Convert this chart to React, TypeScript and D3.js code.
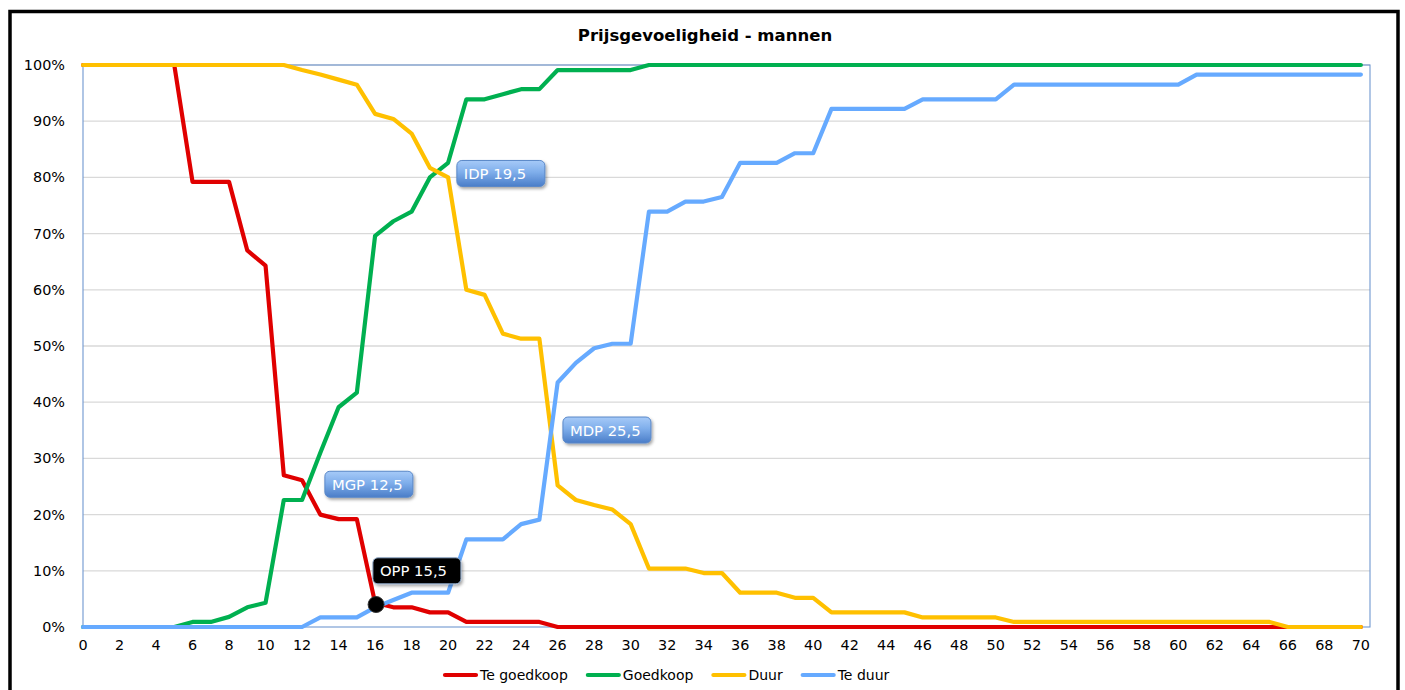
import React, { useEffect, useRef } from "react";
import * as d3 from "d3";

const title = "Prijsgevoeligheid - mannen";
const prices: number[] = d3.range(0, 71);
const xTicks: number[] = d3.range(0, 71, 2);
const yTicks: number[] = [0, 10, 20, 30, 40, 50, 60, 70, 80, 90, 100];

const teGoedkoop: number[] = [
  100, 100, 100, 100, 100, 100, 79.2, 79.2, 79.2, 67, 64.3, 27, 26.1, 20, 19.2, 19.2, 4.3, 3.5, 3.5, 2.6,
  2.6, 0.9, 0.9, 0.9, 0.9, 0.9, 0, 0, 0, 0, 0, 0, 0, 0, 0, 0, 0, 0, 0, 0,
  0, 0, 0, 0, 0, 0, 0, 0, 0, 0, 0, 0, 0, 0, 0, 0, 0, 0, 0, 0,
  0, 0, 0, 0, 0, 0, 0, 0, 0, 0, 0,
];
const goedkoop: number[] = [
  0, 0, 0, 0, 0, 0, 0.9, 0.9, 1.8, 3.5, 4.3, 22.6, 22.6, 31, 39.1, 41.7, 69.6, 72.2, 73.9, 80,
  82.6, 93.9, 93.9, 94.8, 95.7, 95.7, 99.1, 99.1, 99.1, 99.1, 99.1, 100, 100, 100, 100, 100, 100, 100, 100, 100,
  100, 100, 100, 100, 100, 100, 100, 100, 100, 100, 100, 100, 100, 100, 100, 100, 100, 100, 100, 100,
  100, 100, 100, 100, 100, 100, 100, 100, 100, 100, 100,
];
const duur: number[] = [
  100, 100, 100, 100, 100, 100, 100, 100, 100, 100, 100, 100, 99.1, 98.3, 97.4, 96.5, 91.3, 90.4, 87.8, 81.7,
  80, 60, 59.1, 52.2, 51.3, 51.3, 25.2, 22.6, 21.7, 20.9, 18.3, 10.4, 10.4, 10.4, 9.6, 9.6, 6.1, 6.1, 6.1, 5.2,
  5.2, 2.6, 2.6, 2.6, 2.6, 2.6, 1.7, 1.7, 1.7, 1.7, 1.7, 0.9, 0.9, 0.9, 0.9, 0.9, 0.9, 0.9, 0.9, 0.9,
  0.9, 0.9, 0.9, 0.9, 0.9, 0.9, 0, 0, 0, 0, 0,
];
const teDuur: number[] = [
  0, 0, 0, 0, 0, 0, 0, 0, 0, 0, 0, 0, 0, 1.7, 1.7, 1.7, 3.5, 4.8, 6.1, 6.1,
  6.1, 15.6, 15.6, 15.6, 18.3, 19.1, 43.5, 47, 49.6, 50.4, 50.4, 73.9, 73.9, 75.7, 75.7, 76.5, 82.6, 82.6, 82.6, 84.3,
  84.3, 92.2, 92.2, 92.2, 92.2, 92.2, 93.9, 93.9, 93.9, 93.9, 93.9, 96.5, 96.5, 96.5, 96.5, 96.5, 96.5, 96.5, 96.5, 96.5,
  96.5, 98.3, 98.3, 98.3, 98.3, 98.3, 98.3, 98.3, 98.3, 98.3, 98.3,
];

const seriesNames: string[] = ["Te goedkoop", "Goedkoop", "Duur", "Te duur"];
const seriesValues: number[][] = [teGoedkoop, goedkoop, duur, teDuur];
const seriesColors: string[] = ["#E00000", "#00B050", "#FFC000", "#66AAFF"];

// callout labels: text, left edge (price units), vertical centre (%)
const calloutText: string[] = ["MGP 12,5", "OPP 15,5", "IDP 19,5", "MDP 25,5"];
const calloutLeft: number[] = [13.25, 15.88, 20.48, 26.29];
const calloutMid: number[] = [25.4, 10.0, 80.7, 35.05];
const calloutDark: boolean[] = [false, true, false, false];

// OPP marker
const markerPrice = 16;
const markerPct = 4.0;

export default function App() {
  const ref = useRef<SVGSVGElement | null>(null);

  useEffect(() => {
    const svg = d3.select(ref.current);
    svg.selectAll("*").remove();

    const W = 1405, H = 690;
    const L = 83, R = 1370, T = 65, B = 627;
    const font = "'DejaVu Sans', Verdana, sans-serif";

    const x = d3.scaleLinear().domain([0, 70.5]).range([L, R]);
    const y = d3.scaleLinear().domain([0, 100]).range([B, T]);

    const defs = svg.append("defs");
    const grad = defs.append("linearGradient").attr("id", "lblGrad").attr("x1", 0).attr("y1", 0).attr("x2", 0).attr("y2", 1);
    grad.append("stop").attr("offset", "0%").attr("stop-color", "#A6CAF8");
    grad.append("stop").attr("offset", "45%").attr("stop-color", "#7FAEEB");
    grad.append("stop").attr("offset", "100%").attr("stop-color", "#4A7DC8");
    const filt = defs.append("filter").attr("id", "shadow").attr("x", "-20%").attr("y", "-30%").attr("width", "150%").attr("height", "170%");
    filt.append("feDropShadow").attr("dx", 1.5).attr("dy", 2).attr("stdDeviation", 1.5).attr("flood-color", "#000").attr("flood-opacity", 0.35);

    svg.append("rect").attr("x", 0).attr("y", 0).attr("width", W).attr("height", H).attr("fill", "#fff");

    // outer frame
    svg.append("rect").attr("x", 10).attr("y", 11.5).attr("width", 1388).attr("height", 700)
      .attr("fill", "none").attr("stroke", "#000").attr("stroke-width", 3.5);

    // title
    svg.append("text").attr("x", 705).attr("y", 41).attr("text-anchor", "middle")
      .attr("font-family", font).attr("font-weight", "bold").attr("font-size", 16.5).attr("fill", "#000").text(title);

    // gridlines
    svg.append("g").selectAll("line").data(yTicks.filter(v => v > 0)).join("line")
      .attr("x1", L).attr("x2", R).attr("y1", d => y(d)).attr("y2", d => y(d))
      .attr("stroke", "#D9D9D9").attr("stroke-width", 1.3);

    // plot border
    svg.append("rect").attr("x", L).attr("y", T).attr("width", R - L).attr("height", B - T)
      .attr("fill", "none").attr("stroke", "#6F97D0").attr("stroke-width", 1.1);

    // y tick labels
    svg.append("g").selectAll("text").data(yTicks).join("text")
      .attr("x", 65).attr("y", d => y(d) + 5).attr("text-anchor", "end")
      .attr("font-family", font).attr("font-size", 14.4).attr("fill", "#000")
      .text(d => d + "%");

    // x tick labels
    svg.append("g").selectAll("text").data(xTicks).join("text")
      .attr("x", d => x(d)).attr("y", 650).attr("text-anchor", "middle")
      .attr("font-family", font).attr("font-size", 14.4).attr("fill", "#000")
      .text(d => String(d));

    // lines
    const line = d3.line<number>().x((_, i) => x(prices[i])).y(d => y(d));
    seriesValues.forEach((vals, k) => {
      svg.append("path").attr("d", line(vals) as string).attr("fill", "none")
        .attr("stroke", seriesColors[k]).attr("stroke-width", 4.2)
        .attr("stroke-linejoin", "round").attr("stroke-linecap", "round");
    });

    // OPP marker
    svg.append("circle").attr("cx", x(markerPrice) + 1).attr("cy", y(markerPct)).attr("r", 8)
      .attr("fill", "#000").attr("stroke", "#333").attr("stroke-width", 1);

    // callouts
    const bw = 88, bh = 26;
    calloutText.forEach((t, i) => {
      const bx = x(calloutLeft[i]);
      const by = y(calloutMid[i]) - bh / 2;
      const g = svg.append("g");
      g.append("rect").attr("x", bx).attr("y", by).attr("width", bw).attr("height", bh).attr("rx", 5)
        .attr("fill", calloutDark[i] ? "#000" : "url(#lblGrad)")
        .attr("stroke", calloutDark[i] ? "#8FA9C9" : "#5A88C8").attr("stroke-width", 1)
        .attr("filter", "url(#shadow)");
      g.append("text").attr("x", bx + 7).attr("y", by + bh / 2 + 5.5)
        .attr("font-family", font).attr("font-size", 14.8).attr("fill", "#fff").text(t);
    });

    // legend
    let lx = 443;
    const ly = 675;
    seriesNames.forEach((n, k) => {
      svg.append("line").attr("x1", lx + 2).attr("x2", lx + 33).attr("y1", ly).attr("y2", ly)
        .attr("stroke", seriesColors[k]).attr("stroke-width", 4.2).attr("stroke-linecap", "round");
      const tx = svg.append("text").attr("x", lx + 37).attr("y", ly + 5)
        .attr("font-family", font).attr("font-size", 14).attr("fill", "#000").text(n);
      const tw = (tx.node() as SVGTextElement).getComputedTextLength();
      lx = lx + 37 + tw + 18;
    });
  }, []);

  return (
    <svg ref={ref} width={1405} height={690} style={{ position: "absolute", left: 0, top: 0, display: "block" }} />
  );
}
